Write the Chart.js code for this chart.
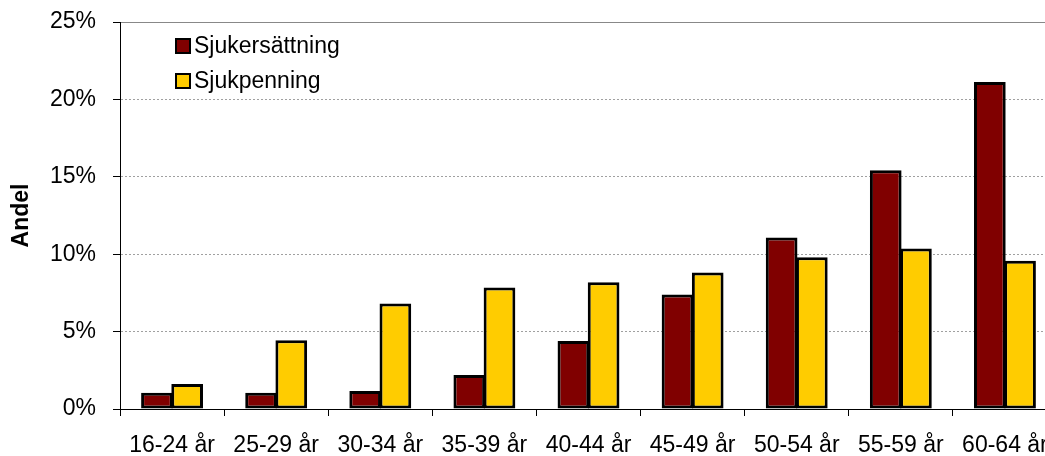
<!DOCTYPE html>
<html>
<head>
<meta charset="utf-8">
<script src="https://cdn.jsdelivr.net/npm/chart.js@4"></script>
<style>
  html, body { margin: 0; padding: 0; background: #fff; overflow: hidden; }
  #wrap { width: 1045px; height: 456px; overflow: hidden; }
</style>
</head>
<body>
<div id="wrap"><canvas id="barChart" width="1060" height="456"></canvas></div>
<script>
// Data
const categories = ['16-24 år','25-29 år','30-34 år','35-39 år','40-44 år','45-49 år','50-54 år','55-59 år','60-64 år'];
const sjukersattning = [1.05, 1.05, 1.16, 2.2, 4.4, 7.39, 11.08, 15.43, 21.13];
const sjukpenning = [1.62, 4.44, 6.81, 7.85, 8.19, 8.82, 9.81, 10.37, 9.57];
const yTicks = [0, 5, 10, 15, 20, 25];

const font = "'Liberation Sans', Arial, sans-serif";

// legend drawn inside the plot area, top left
const insideLegend = {
    id: 'insideLegend',
    afterDraw(chart){
        const c = chart.ctx;
        const area = chart.chartArea;
        c.save();
        chart.data.datasets.forEach((ds, i) => {
            const x = area.left + 56;
            const y = area.top + 17 + i * 35;
            c.fillStyle = ds.backgroundColor;
            c.fillRect(x, y, 14, 14);
            c.lineWidth = 2;
            c.strokeStyle = '#000';
            c.strokeRect(x, y, 14, 14);
            c.fillStyle = '#000';
            c.font = '23px ' + font;
            c.textBaseline = 'middle';
            c.fillText(ds.label, x + 18, y + 8);
        });
        c.restore();
    }
};

const ctx = document.getElementById('barChart').getContext('2d');
new Chart(ctx, {
    type: 'bar',
    data: {
        labels: categories,
        datasets: [
            { label: 'Sjukersättning', data: sjukersattning, backgroundColor: '#800000',
              borderColor: '#000', borderWidth: 3, borderSkipped: false },
            { label: 'Sjukpenning', data: sjukpenning, backgroundColor: '#ffcc00',
              borderColor: '#000', borderWidth: 3, borderSkipped: false }
        ]
    },
    options: {
        responsive: false,
        animation: false,
        devicePixelRatio: 1,
        layout: { padding: { top: 22, right: 3, left: 0, bottom: 0 } },
        datasets: {
            bar: {
                categoryPercentage: 0.58,
                barPercentage: 1.05
            }
        },
        plugins: {
            legend: { display: false },
            tooltip: { enabled: false }
        },
        scales: {
            x: {
                afterFit(s){ s.height = 47; s.paddingLeft = 0; s.paddingRight = 0; },
                grid: {
                    display: true,
                    drawOnChartArea: false,
                    drawTicks: true,
                    tickLength: 7,
                    tickColor: '#000',
                    tickBorderDash: []
                },
                border: { color: '#000', width: 1 },
                ticks: {
                    color: '#000',
                    font: { family: font, size: 23 },
                    padding: 16,
                    maxRotation: 0,
                    autoSkip: false
                }
            },
            y: {
                min: 0,
                max: 25,
                afterFit(s){ s.width = 120; s.paddingTop = 0; s.paddingBottom = 0; },
                afterBuildTicks(s){ s.ticks = yTicks.map(v => ({ value: v })); },
                grid: {
                    color: c => (c.tick && c.tick.value === 25) ? '#888' : '#a0a0a0',
                    tickLength: 7,
                    tickColor: '#000',
                    tickBorderDash: []
                },
                border: {
                    color: '#000',
                    width: 1,
                    dash: c => (c.tick && c.tick.value === 25) ? [] : [2, 2]
                },
                ticks: {
                    color: '#000',
                    font: { family: font, size: 23 },
                    padding: 17,
                    callback: v => v + '%'
                },
                title: {
                    display: true,
                    text: 'Andel',
                    color: '#000',
                    font: { family: font, size: 23, weight: 'bold' },
                    padding: { top: 8, bottom: 0 }
                }
            }
        }
    },
    plugins: [insideLegend]
});
</script>
</body>
</html>
